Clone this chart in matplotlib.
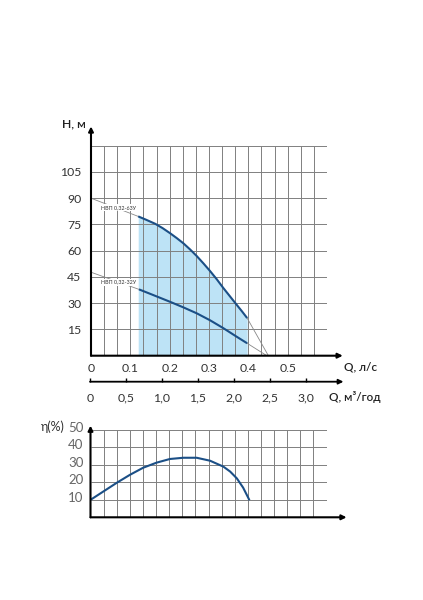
import matplotlib
matplotlib.use("Agg")
import matplotlib.pyplot as plt
from matplotlib.transforms import ScaledTranslation

plt.rcParams['font.family'] = ['Lato', 'Open Sans', 'DejaVu Sans']

# --- data ---
# pump curve H(Q) for НВП 0,32-63У, working part (Q in l/s, H in m)
q63 = [0.120, 0.140, 0.163, 0.182, 0.201, 0.218, 0.235, 0.252, 0.269, 0.286, 0.303, 0.320, 0.336, 0.353, 0.370, 0.384, 0.397]
h63 = [79.6, 77.7, 75.4, 72.9, 70.0, 67.2, 64.2, 60.7, 56.9, 52.7, 48.3, 43.6, 38.8, 34.0, 29.2, 25.3, 21.5]
# extension lines (thin grey) of the same curve
q63_ext_l = [0.0, 0.120]
h63_ext_l = [90.0, 79.6]
q63_ext_r = [0.397, 0.451]
h63_ext_r = [21.5, 0.0]

# НВП 0,32-32У
q32 = [0.122, 0.160, 0.201, 0.235, 0.269, 0.303, 0.336, 0.370, 0.397]
h32 = [37.9, 34.5, 30.8, 27.6, 24.2, 20.2, 15.8, 10.9, 7.1]
q32_ext_l = [0.0, 0.122]
h32_ext_l = [47.7, 37.9]
q32_ext_r = [0.397, 0.447]
h32_ext_r = [7.1, 0.0]

# efficiency curve
q_eta = [0.0, 0.067, 0.100, 0.134, 0.168, 0.202, 0.236, 0.270, 0.304, 0.338, 0.355, 0.372, 0.388, 0.403]
eta = [10.0, 19.8, 24.3, 28.4, 31.3, 33.4, 34.1, 34.1, 32.4, 29.0, 26.2, 22.3, 17.0, 10.3]

h_ticks = [15, 30, 45, 60, 75, 90, 105]
q_ticks = [0, 0.1, 0.2, 0.3, 0.4, 0.5]
q_labels = ['0', '0,1', '0,2', '0,3', '0,4', '0,5']
m3_ticks = [0, 0.5, 1.0, 1.5, 2.0, 2.5, 3.0]
m3_labels = ['0', '0,5', '1,0', '1,5', '2,0', '2,5', '3,0']
eta_ticks = [10, 20, 30, 40, 50]

W, H = 423, 600
blue = '#1b4f86'
gridc = '#808080'
shade = '#bde3f6'


def box(x0, y_bot, w, h):
    # pixel box -> figure fraction
    return [x0 / W, (H - y_bot) / H, w / W, h / H]


fig = plt.figure(figsize=(W / 100, H / 100), dpi=100)

# ---------------- upper chart ----------------
ax = fig.add_axes(box(91, 355.7, 236, 210))
ax.set_xlim(0, 0.6)
ax.set_ylim(0, 120)
for s in ax.spines.values():
    s.set_visible(False)

ax.vlines([k / 30 for k in range(1, 19)], 0, 120, color=gridc, lw=0.7, zorder=1)
ax.hlines([15 * k for k in range(1, 9)], 0, 0.6, color=gridc, lw=0.7, zorder=1)

ax.fill_between(q63, 0, h63, color=shade, lw=0, zorder=0.5)

ax.plot(q63_ext_l, h63_ext_l, color='#888888', lw=0.6, zorder=2)
ax.plot(q63_ext_r, h63_ext_r, color='#888888', lw=0.6, zorder=2)
ax.plot(q32_ext_l, h32_ext_l, color='#888888', lw=0.6, zorder=2)
ax.plot(q32_ext_r, h32_ext_r, color='#888888', lw=0.6, zorder=2)
ax.plot(q63, h63, color=blue, lw=1.5, zorder=3, solid_capstyle='butt')
ax.plot(q32, h32, color=blue, lw=1.5, zorder=3, solid_capstyle='butt')

ax.text(0.0694, 84.6, 'НВП 0,32-63У', fontsize=3.9, color='#333333', ha='center', va='center',
        bbox=dict(facecolor='white', edgecolor='none', pad=0.6), zorder=4)
ax.text(0.0694, 42.0, 'НВП 0,32-32У', fontsize=3.9, color='#333333', ha='center', va='center',
        bbox=dict(facecolor='white', edgecolor='none', pad=0.6), zorder=4)

# axes arrows
arrow = dict(arrowstyle='-|>', color='black', lw=1.5, mutation_scale=7, shrinkA=0, shrinkB=0)
ax.annotate('', xy=(0.64, 0), xytext=(0, 0), arrowprops=arrow, annotation_clip=False, zorder=5)
ax.annotate('', xy=(0, 131), xytext=(0, 0), arrowprops=arrow, annotation_clip=False, zorder=5)

ax.set_yticks(h_ticks)
ax.set_yticklabels([str(v) for v in h_ticks])
ax.set_xticks(q_ticks)
ax.set_xticklabels(q_labels)
ax.tick_params(axis='y', length=0, pad=7, labelsize=8.8, labelcolor='#333333')
ax.tick_params(axis='x', length=0, pad=5, labelsize=8.8, labelcolor='#333333')

ax.text(0.643, -6.4, 'Q, л/с', fontsize=8.5, fontweight='semibold', color='#222222',
        ha='left', va='center', clip_on=False)
ax.text(-0.075, 132.5, 'Н, м', fontsize=8.8, fontweight='semibold', color='#222222',
        ha='left', va='center', clip_on=False)

# ---------------- m3/h axis ----------------
ax2 = fig.add_axes(box(90, 381.7, 252, 10))
ax2.set_xlim(0, 3.5)
ax2.set_ylim(0, 1)
for s in ax2.spines.values():
    s.set_visible(False)
ax2.set_yticks([])
ax2.annotate('', xy=(3.52, 0), xytext=(0, 0), arrowprops=dict(arrowstyle='-|>', color='black', lw=1.3,
             mutation_scale=7, shrinkA=0, shrinkB=0), annotation_clip=False)
ax2.set_xticks(m3_ticks)
ax2.set_xticklabels(m3_labels)
ax2.tick_params(axis='x', direction='in', length=3, width=1, pad=8, labelsize=8.8, labelcolor='#333333')
ax2.text(3.32, -1.5, 'Q, м³/год', fontsize=8.5, fontweight='semibold', color='#222222',
         ha='left', va='center', clip_on=False)

# ---------------- efficiency chart ----------------
ax3 = fig.add_axes(box(90.5, 517.3, 236, 87.3))
ax3.set_xlim(0, 0.6)
ax3.set_ylim(0, 50)
for s in ax3.spines.values():
    s.set_visible(False)
ax3.vlines([k / 30 for k in range(1, 19)], 0, 50, color=gridc, lw=0.7, zorder=1)
ax3.hlines([10 * k for k in range(1, 6)], 0, 0.6, color=gridc, lw=0.7, zorder=1)
ax3.plot(q_eta, eta, color=blue, lw=1.5, zorder=3)
ax3.annotate('', xy=(0.651, 0), xytext=(0, 0), arrowprops=arrow, annotation_clip=False, zorder=5)
ax3.annotate('', xy=(0, 52.5), xytext=(0, 0), arrowprops=arrow, annotation_clip=False, zorder=5)
ax3.set_xticks([])
ax3.set_yticks(eta_ticks)
ax3.set_yticklabels([str(v) for v in eta_ticks])
ax3.tick_params(axis='y', length=0, pad=5, labelsize=9.5, labelcolor='#666666')
for lab in ax3.get_yticklabels():
    lab.set_transform(lab.get_transform() + ScaledTranslation(0, 3 / 100, fig.dpi_scale_trans))
ax3.text(-0.066, 51.8, 'η(%)', fontsize=9, color='#333333', ha='right', va='center', clip_on=False)

fig.savefig('out.png', dpi=100)
